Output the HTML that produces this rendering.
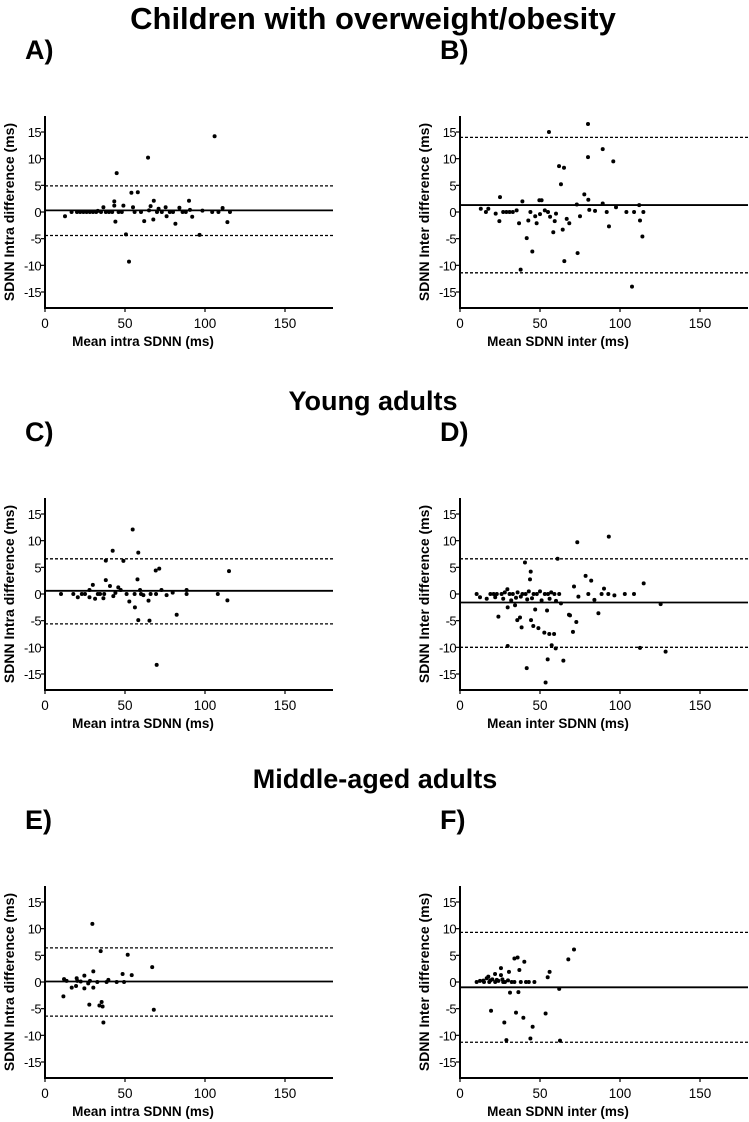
<!DOCTYPE html>
<html><head><meta charset="utf-8"><style>
body{margin:0;background:#fff;}
svg{display:block;font-family:"Liberation Sans",Arial,sans-serif;}
</style></head><body>
<svg id="fig" width="749" height="1122" viewBox="0 0 749 1122">
<text x="373" y="29" text-anchor="middle" font-size="31" font-weight="bold">Children with overweight/obesity</text>
<text x="373" y="410" text-anchor="middle" font-size="27" font-weight="bold">Young adults</text>
<text x="375" y="788" text-anchor="middle" font-size="27" font-weight="bold">Middle-aged adults</text>
</svg>
<script>
// ---- data (x = mean SDNN, y = difference) ----
const aX=[12.5,16.6,20,22,24,26,28,30,32,33,35,36.5,38,40,42,43.3,43.3,44,44.8,46,48,49,50.6,52.5,54,55,56,58,60,62,64.4,65,66,67.7,68,70,71,73,75.4,76,78,80,81.5,84,86,88,90,90.6,92,96.6,98.4,104.5,106,108.4,111,114,115.6];
const aY=[-0.8,0,0,0,0,0,0,0,0,0.2,0,0.9,0,0,0,2,1.2,-1.8,7.3,0,0,1.2,-4.2,-9.3,3.6,0.9,0,3.7,0,-1.7,10.2,0.3,1.1,-1.4,2.1,0,0.6,0,0.9,-0.8,0,0,-2.2,0.8,0,0,2.1,0.4,-0.9,-4.3,0.25,0,14.2,0,0.75,-1.9,0];
const aLines=[0.3,4.9,-4.4];
const bX=[13,16.2,17.7,22.3,25,24.6,27,29,31,33,35.4,36.9,37.9,39,41.7,42.7,45.2,47.9,49.6,51,53,56.3,58.3,59.2,61.9,63.1,64.2,65,65.2,66.7,68.3,73,73.5,75,77.7,80,80.2,80.8,84.4,89.2,89.2,91.7,93.1,95.8,97.5,104,107.5,108.8,112,112.5,114,114.6,55.6,80,44,47,50,55,60];
const bY=[0.6,0,0.6,-0.3,2.8,-1.7,0,0,0,0,0.3,-2.1,-10.8,2,-4.9,-1.6,-7.4,-2.1,2.2,2.2,0.3,-0.9,-3.8,-1.7,8.6,5.2,-3.3,8.3,-9.2,-1.3,-2.1,1.4,-7.7,-0.8,3.3,10.3,2.3,0.4,0.2,11.8,1.6,0,-2.7,9.5,0.9,0,-14,0,1.3,-1.6,-4.6,0,15,16.5,0,-0.8,-0.4,0,-0.3];
const bLines=[1.3,14,-11.4];
const cX=[10,17.7,20.5,23,27.8,29.9,27.8,31.3,34.4,36.5,38,38,40.6,42.3,42.7,45.8,47.3,49,52.7,54.8,56.2,56,57.8,58.3,58.3,59.4,61.5,64.7,65.3,69.8,69.4,69.2,71.4,72.8,76,82.3,79.8,88.5,88.5,108,114,115,25,33,37,44,51,60,66];
const cY=[0,0,-0.6,0,0.75,1.7,-0.6,-0.9,0,-0.8,6.25,2.6,1.5,8.1,-0.4,1.25,0.75,6.2,-1.4,12.1,-2.5,0,2.75,7.75,-4.9,0.75,-0.2,-1.25,-5,-13.3,0,4.4,4.75,0.75,-0.2,-3.9,0.25,0.75,0,0,-1.2,4.3,0,0,0,0.2,0,0,0];
const cLines=[0.6,6.6,-5.6];
const dX=[10.4,12.5,16.7,24,29.6,29.8,29.8,34.4,35.8,37.5,38.5,40.6,44.2,43.75,41.7,44.4,45.8,49,47,52.7,54.4,54.8,55.8,58.8,57.3,59.8,61,53.5,64.6,63.1,68.1,68.75,70.6,71.25,72.7,73.3,74,78.5,82,80.2,84,86.5,90,88.5,93,92.7,96.5,103,108.75,112.5,114.8,125.4,128.5,19,21,23,26,28,31,33,36,39,41,43,46,48,50,53,55,57,59,62,22,27,32,35,38,42,45,51,56,60];
const dY=[0,-0.6,-0.9,-4.25,0.9,-9.75,-2.5,-2.1,-4.9,-4.4,-6.25,5.9,4.2,2.75,-13.9,-4.9,-6,-6.4,-2.9,-7.25,-3.1,-12.25,-7.5,-7.5,-9.6,-10.2,6.6,-16.6,-12.5,-1.75,-3.9,-4,-7.1,1.4,-5.25,9.7,-0.5,3.4,2.5,0,-1.1,-3.6,1,0,10.75,0,-0.25,0,0,-10.1,2,-1.9,-10.8,0,0,0,0,0.3,0,0,0.3,0,0,0.5,0,0,0.5,0,0,0.3,0,0,-0.6,-0.9,-1.2,-0.7,-0.5,-1,-0.8,-1.2,-0.9,-1.3];
const dLines=[-1.6,6.6,-10];
const eX=[11.9,11.5,13.5,16.7,19.8,20.2,19.4,22.3,24.6,24.6,27,27.7,28.1,29.6,30.2,30.2,32.7,34,34.8,35.4,36,36.5,38.5,39.6,44.8,48.5,49.4,51.7,54.2,67,68];
const eY=[0.55,-2.7,0.2,-1.05,0.7,0.2,-0.75,0.1,1.2,-1.2,-0.25,-4.25,0.2,10.9,2,-1.05,0,-4.4,5.8,-3.75,-4.6,-7.6,0,0.4,0,1.5,0,5.1,1.3,2.8,-5.2];
const eLines=[0.1,6.4,-6.4];
const fX=[10.4,12.5,14.6,16.7,17.7,18.3,19.4,20.2,21.9,23,25.6,25.6,26.5,27.7,28.1,30.6,31.25,32.3,34,35,36,36.5,37.1,39.6,40.2,41.25,45.4,46.5,53.5,54.8,56,62,67.7,71.25,29,44,62.5,15,19,22,24,27,30,34,38,43];
const fY=[0,0.2,0.25,0.7,1,0,-5.4,0.5,1.5,0.4,2.6,1.3,0.5,-7.6,0,1.9,-2,0,4.4,-5.75,4.6,-1.9,2.25,-6.7,3.8,0,-8.4,0,-5.9,0.9,1.9,-1.3,4.25,6.1,-10.9,-10.6,-11,0,0.3,0,0.2,0,0.3,0,0,0];
const fLines=[-1.0,9.3,-11.3];
const xTicks=[0,50,100,150];
const yTicks=[15,10,5,0,-5,-10,-15];

const NS='http://www.w3.org/2000/svg';
const svg=document.getElementById('fig');
function mk(tag,attrs,parent){const e=document.createElementNS(NS,tag);for(const k in attrs)e.setAttribute(k,attrs[k]);(parent||svg).appendChild(e);return e;}

const panels=[
 {id:'a',lab:'A)',x0:45,z:212,xs:aX,ys:aY,ln:aLines,yt:'SDNN Intra difference (ms)',xt:'Mean intra SDNN (ms)'},
 {id:'b',lab:'B)',x0:460,z:212,xs:bX,ys:bY,ln:bLines,yt:'SDNN Inter difference (ms)',xt:'Mean SDNN inter (ms)'},
 {id:'c',lab:'C)',x0:45,z:594,xs:cX,ys:cY,ln:cLines,yt:'SDNN Intra difference (ms)',xt:'Mean intra SDNN (ms)'},
 {id:'d',lab:'D)',x0:460,z:594,xs:dX,ys:dY,ln:dLines,yt:'SDNN Inter difference (ms)',xt:'Mean inter SDNN (ms)'},
 {id:'e',lab:'E)',x0:45,z:982,xs:eX,ys:eY,ln:eLines,yt:'SDNN Intra difference (ms)',xt:'Mean intra SDNN (ms)'},
 {id:'f',lab:'F)',x0:460,z:982,xs:fX,ys:fY,ln:fLines,yt:'SDNN Inter difference (ms)',xt:'Mean SDNN inter (ms)'}
];
const SX=1.6, SY=5.333;
panels.forEach(p=>{
 const g=mk('g',{});
 
 
 const X=v=>p.x0+v*SX, Y=v=>p.z-v*SY;
 const right=Math.min(X(180),748);
 const lab=mk('text',{x:p.x0-20,y:p.z-153,'font-size':27,'font-weight':'bold'},g);lab.textContent=p.lab;
 
 
 p.ln.forEach((v,i)=>{
  const l=mk('line',{x1:p.x0,x2:right,y1:Y(v),y2:Y(v),stroke:'#000','stroke-width':i?1.3:1.8,'stroke-dasharray':i?'3,2':'none'},g);
  
  
 });
 const ya=mk('line',{x1:p.x0,x2:p.x0,y1:Y(18),y2:Y(-18)+1,stroke:'#000','stroke-width':2},g);
 
 
 const xa=mk('line',{x1:p.x0-1,x2:right,y1:Y(-18),y2:Y(-18),stroke:'#000','stroke-width':2},g);
 
 
 yTicks.forEach(t=>{
  mk('line',{x1:p.x0-4,x2:p.x0,y1:Y(t),y2:Y(t),stroke:'#000','stroke-width':1.2},g);
  const tx=mk('text',{x:p.x0-4,y:Y(t)+5,'text-anchor':'end','font-size':13,'letter-spacing':'-0.6'},g);tx.textContent=t;
  
  
 });
 xTicks.forEach(t=>{
  mk('line',{x1:X(t),x2:X(t),y1:Y(-18),y2:Y(-18)+4,stroke:'#000','stroke-width':1.2},g);
  const tx=mk('text',{x:X(t),y:Y(-18)+20,'text-anchor':'middle','font-size':13.5},g);tx.textContent=t;
  
  
 });
 const yt=mk('text',{x:0,y:0,'text-anchor':'middle','font-size':14,'font-weight':'bold',transform:`translate(${p.x0-31},${Y(0)}) rotate(-90)`},g);yt.textContent=p.yt;
 
 
 const xt=mk('text',{x:p.x0+98,y:Y(-18)+38,'text-anchor':'middle','font-size':13.5,'font-weight':'bold'},g);xt.textContent=p.xt;
 
 
 p.xs.forEach((v,i)=>{
  const c=mk('circle',{cx:X(v),cy:Y(p.ys[i]),r:2,fill:'#000'},g);
  
  
 });
});
</script>
</body></html>
